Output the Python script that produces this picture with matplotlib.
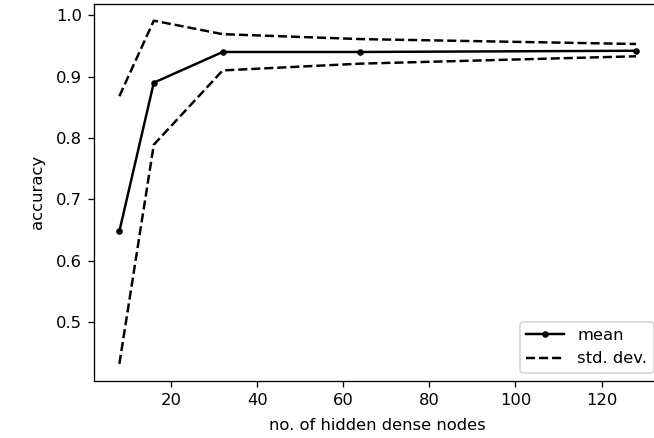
import matplotlib
matplotlib.use("Agg")
import matplotlib.pyplot as plt

nodes = [8, 16, 32, 64, 128]
acc_mean = [0.648, 0.890, 0.940, 0.940, 0.942]
acc_upper = [0.868, 0.991, 0.969, 0.961, 0.953]
acc_lower = [0.432, 0.789, 0.910, 0.921, 0.933]

dpi = 118
fig = plt.figure(figsize=(654 / dpi, 438 / dpi), dpi=dpi)
ax = fig.add_axes([0.143, 0.130, 0.869, 0.862])

ax.plot(nodes, acc_mean, 'k.-', label='mean')
ax.plot(nodes, acc_upper, 'k--', label='std. dev.')
ax.plot(nodes, acc_lower, 'k--')

ax.set_xlabel("no. of hidden dense nodes", labelpad=6.5)
ax.set_ylabel("accuracy", labelpad=6.5)
ax.legend(loc='lower right', handlelength=2.3)

fig.savefig("out.png", dpi=dpi)
